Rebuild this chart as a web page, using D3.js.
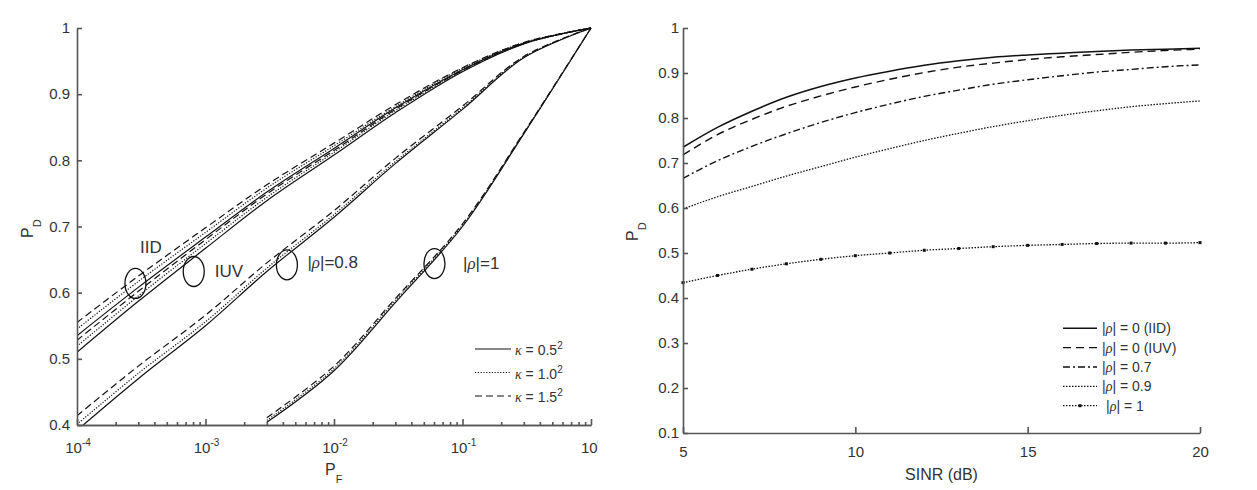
<!DOCTYPE html>
<html>
<head>
<meta charset="utf-8">
<script src="https://cdn.jsdelivr.net/npm/d3@7"></script>
<style>
body { margin: 0; background: #fff; }
svg { display: block; font-family: "Liberation Sans", Arial, sans-serif; }
.axis path, .axis line { stroke: #555; stroke-width: 1.6; }
.axis text { fill: #333; font-size: 15px; font-family: "Liberation Sans", Arial, sans-serif; }
.curve { fill: none; stroke: #111; }
</style>
</head>
<body>
<svg width="1257" height="490"></svg>
<script>
// ---------- left panel: P_D vs P_F ----------
const pf = [1e-4, 3e-4, 1e-3, 3e-3, 1e-2, 3e-2, 0.1, 0.3, 1];

const pdIIDk05 = [0.535, 0.608, 0.684, 0.752, 0.818, 0.879, 0.937, 0.977, 1];
const pdIIDk10 = [0.545, 0.617, 0.691, 0.758, 0.822, 0.881, 0.939, 0.978, 1];
const pdIIDk15 = [0.555, 0.625, 0.698, 0.763, 0.826, 0.884, 0.940, 0.978, 1];

const pdIUVk05 = [0.510, 0.587, 0.667, 0.739, 0.808, 0.872, 0.934, 0.976, 1];
const pdIUVk10 = [0.519, 0.595, 0.674, 0.744, 0.812, 0.875, 0.935, 0.976, 1];
const pdIUVk15 = [0.528, 0.602, 0.680, 0.749, 0.815, 0.877, 0.936, 0.977, 1];

const pdRho08k05 = [0.392, 0.470, 0.550, 0.632, 0.714, 0.795, 0.877, 0.955, 1];
const pdRho08k10 = [0.401, 0.478, 0.556, 0.637, 0.718, 0.798, 0.879, 0.956, 1];
const pdRho08k15 = [0.414, 0.489, 0.566, 0.645, 0.724, 0.803, 0.882, 0.957, 1];

const pdRho1k05 = [null, null, null, 0.404, 0.482, 0.585, 0.700, 0.840, 1];
const pdRho1k10 = [null, null, null, 0.407, 0.485, 0.588, 0.702, 0.841, 1];
const pdRho1k15 = [null, null, null, 0.411, 0.489, 0.591, 0.704, 0.842, 1];

const pfTicks = [1e-4, 1e-3, 1e-2, 1e-1, 1];
const pfTickExp = ['-4', '-3', '-2', '-1', '0'];
const pdTicksLeft = [0.4, 0.5, 0.6, 0.7, 0.8, 0.9, 1];
const kappaNames = ['0.5', '1.0', '1.5'];

// group labels (ellipse centre in data units)
const groupPF = [2.85e-4, 8.1e-4, 4.3e-3, 0.0605];
const groupPD = [0.614, 0.632, 0.642, 0.644];
const groupText = ['IID', 'IUV', '|ρ|=0.8', '|ρ|=1'];

// ---------- right panel: P_D vs SINR ----------
const sinr = [5, 6, 7, 8, 9, 10, 11, 12, 13, 14, 15, 16, 17, 18, 19, 20];
const pdIID   = [0.735, 0.779, 0.815, 0.846, 0.870, 0.889, 0.904, 0.917, 0.927, 0.935, 0.940, 0.944, 0.948, 0.951, 0.953, 0.955];
const pdIUV   = [0.718, 0.763, 0.797, 0.826, 0.849, 0.869, 0.886, 0.901, 0.913, 0.922, 0.930, 0.936, 0.941, 0.946, 0.950, 0.953];
const pdRho07 = [0.666, 0.705, 0.737, 0.765, 0.790, 0.812, 0.831, 0.848, 0.862, 0.875, 0.885, 0.894, 0.902, 0.908, 0.914, 0.918];
const pdRho09 = [0.598, 0.625, 0.648, 0.671, 0.692, 0.713, 0.732, 0.750, 0.766, 0.781, 0.794, 0.806, 0.816, 0.825, 0.832, 0.838];
const pdRho1  = [0.434, 0.450, 0.464, 0.476, 0.486, 0.494, 0.500, 0.506, 0.510, 0.514, 0.517, 0.519, 0.521, 0.522, 0.522, 0.523];

const sinrTicks = [5, 10, 15, 20];
const pdTicksRight = [0.1, 0.2, 0.3, 0.4, 0.5, 0.6, 0.7, 0.8, 0.9, 1];
const rhoNames = ['0 (IID)', '0 (IUV)', '0.7', '0.9', '1'];

const svg = d3.select('svg');

// text helper: italic greek letters
function richText(sel, str) {
  str.split(/([ρκ])/).forEach(part => {
    if (!part) return;
    const t = sel.append('tspan').text(part);
    if (part === 'ρ' || part === 'κ') t.attr('font-family', '"Liberation Serif", serif').attr('font-style', 'italic');
  });
}

// ===== left =====
const xL = d3.scaleLog().domain([1e-4, 1]).range([77, 591]);
const yL = d3.scaleLinear().domain([0.4, 1]).range([425, 28]);

const defs = svg.append('defs');
defs.append('clipPath').attr('id', 'clipL').append('rect')
  .attr('x', 77).attr('y', 18).attr('width', 520).attr('height', 407);
defs.append('clipPath').attr('id', 'clipPanelL').append('rect')
  .attr('x', 0).attr('y', 0).attr('width', 598).attr('height', 490);

const left = svg.append('g').attr('clip-path', 'url(#clipPanelL)');

const kappaDash = [null, '1.2,1.6', '7,4'];
const leftSeries = [
  [pdIIDk05, 0], [pdIIDk10, 1], [pdIIDk15, 2],
  [pdIUVk05, 0], [pdIUVk10, 1], [pdIUVk15, 2],
  [pdRho08k05, 0], [pdRho08k10, 1], [pdRho08k15, 2],
  [pdRho1k05, 0], [pdRho1k10, 1], [pdRho1k15, 2]
];

const lineL = d3.line()
  .defined(d => d[1] != null)
  .x(d => xL(d[0]))
  .y(d => yL(d[1]))
  .curve(d3.curveCatmullRom.alpha(0.5));

left.append('g').attr('clip-path', 'url(#clipL)')
  .selectAll('path').data(leftSeries).enter().append('path')
    .attr('class', 'curve')
    .attr('stroke-width', 1.2)
    .attr('stroke-dasharray', d => kappaDash[d[1]])
    .attr('d', d => lineL(pf.map((p, i) => [p, d[0][i]])));

// axes
const minorPF = [];
pfTicks.slice(0, -1).forEach(t => { for (let m = 2; m <= 9; m++) minorPF.push(t * m); });

left.append('g').attr('class', 'axis').attr('transform', 'translate(0,425)')
  .call(d3.axisBottom(xL).tickValues(minorPF).tickSize(-3).tickSizeOuter(0).tickFormat(''));
left.append('g').attr('class', 'axis').attr('transform', 'translate(0,425)')
  .call(d3.axisBottom(xL).tickValues(pfTicks).tickSize(-6).tickSizeOuter(0).tickFormat(''));

const xlab = left.selectAll('.pflab').data(pfTicks).enter().append('text')
  .attr('class', 'pflab')
  .attr('x', d => xL(d) + 1)
  .attr('y', 453)
  .attr('text-anchor', 'middle')
  .attr('font-size', 15).attr('fill', '#333');
xlab.append('tspan').text('10');
xlab.append('tspan').attr('dy', -7).attr('font-size', 10).text((d, i) => pfTickExp[i]);

left.append('g').attr('class', 'axis').attr('transform', 'translate(77,0)')
  .call(d3.axisLeft(yL).tickValues(pdTicksLeft).tickSize(-5).tickPadding(7)
    .tickSizeOuter(0).tickFormat(d3.format('~g')));

// axis titles
const pfTitle = left.append('text').attr('x', 325).attr('y', 475)
  .attr('font-size', 16).attr('fill', '#333');
pfTitle.append('tspan').text('P');
pfTitle.append('tspan').attr('dy', 8).attr('font-size', 11).text('F');

const pdTitleL = left.append('text').attr('transform', 'translate(33,238) rotate(-90)')
  .attr('font-size', 16).attr('fill', '#333');
pdTitleL.append('tspan').text('P');
pdTitleL.append('tspan').attr('dy', 8).attr('font-size', 11).text('D');

// group ellipses + labels
const labelOffset = [[4.5, -30], [21, 6], [20.5, 3.5], [28.5, 5]];
groupPF.forEach((p, i) => {
  const cx = xL(p), cy = yL(groupPD[i]);
  left.append('ellipse').attr('cx', cx).attr('cy', cy).attr('rx', 10.5).attr('ry', 15)
    .attr('fill', 'none').attr('stroke', '#111').attr('stroke-width', 1.3);
  const t = left.append('text').attr('x', cx + labelOffset[i][0]).attr('y', cy + labelOffset[i][1])
    .attr('font-size', 17).attr('fill', '#333');
  richText(t, groupText[i]);
});

// kappa legend
const legL = left.append('g');
kappaNames.forEach((k, i) => {
  const y = 349 + i * 23.5;
  legL.append('line').attr('x1', 475).attr('x2', 511).attr('y1', y).attr('y2', y)
    .attr('stroke', '#111').attr('stroke-width', 1.2).attr('stroke-dasharray', kappaDash[i]);
  const t = legL.append('text').attr('x', 515).attr('y', y + 6).attr('font-size', 14).attr('fill', '#333');
  t.append('tspan').attr('font-family', '"Liberation Serif", serif').attr('font-style', 'italic').text('κ');
  t.append('tspan').text(' = ' + k);
  t.append('tspan').attr('dy', -6).attr('font-size', 10).text('2');
});

// ===== right =====
const xR = d3.scaleLinear().domain([5, 20]).range([683, 1200]);
const yR = d3.scaleLinear().domain([0.1, 1]).range([433, 28]);

const right = svg.append('g');

const rightSeries = [
  { vals: pdIID, dash: null, w: 1.5 },
  { vals: pdIUV, dash: '8,5', w: 1.4 },
  { vals: pdRho07, dash: '7,3,2,3', w: 1.4 },
  { vals: pdRho09, dash: '1.5,1.5', w: 1.3 },
  { vals: pdRho1, dash: '1.5,1.5', w: 1.3, marker: true }
];

const lineR = d3.line()
  .x(d => xR(d[0]))
  .y(d => yR(d[1]))
  .curve(d3.curveMonotoneX);

right.selectAll('path.curve').data(rightSeries).enter().append('path')
  .attr('class', 'curve')
  .attr('stroke-width', d => d.w)
  .attr('stroke-dasharray', d => d.dash)
  .attr('d', d => lineR(sinr.map((s, i) => [s, d.vals[i]])));

right.selectAll('rect.mk').data(sinr).enter().append('rect')
  .attr('class', 'mk')
  .attr('x', (d) => xR(d) - 1.5)
  .attr('y', (d, i) => yR(pdRho1[i]) - 1.5)
  .attr('width', 3).attr('height', 3).attr('fill', '#111');

right.append('g').attr('class', 'axis').attr('transform', 'translate(0,433)')
  .call(d3.axisBottom(xR).tickValues(sinrTicks).tickSize(-6).tickPadding(13)
    .tickSizeOuter(0).tickFormat(d3.format('d')));

right.append('g').attr('class', 'axis').attr('transform', 'translate(683,0)')
  .call(d3.axisLeft(yR).tickValues(pdTicksRight).tickSize(-5).tickPadding(4)
    .tickSizeOuter(0).tickFormat(d3.format('~g')));

right.append('text').attr('x', 941.5).attr('y', 480).attr('text-anchor', 'middle')
  .attr('font-size', 16).attr('fill', '#333').text('SINR (dB)');

const pdTitleR = right.append('text').attr('transform', 'translate(638,241) rotate(-90)')
  .attr('font-size', 16).attr('fill', '#333');
pdTitleR.append('tspan').text('P');
pdTitleR.append('tspan').attr('dy', 8).attr('font-size', 11).text('D');

// rho legend
const legR = right.append('g');
rhoNames.forEach((n, i) => {
  const y = 328.3 + i * 19.35;
  const s = rightSeries[i];
  legR.append('line').attr('x1', 1063).attr('x2', 1097).attr('y1', y).attr('y2', y)
    .attr('stroke', '#111').attr('stroke-width', s.w).attr('stroke-dasharray', s.dash);
  if (s.marker) {
    legR.append('rect').attr('x', 1078.5).attr('y', y - 1.5).attr('width', 3).attr('height', 3).attr('fill', '#111');
  }
  const t = legR.append('text').attr('x', i === 4 ? 1106 : 1102).attr('y', y + 5)
    .attr('font-size', 14).attr('fill', '#333');
  richText(t, '|ρ| = ' + n);
});
</script>
</body>
</html>
